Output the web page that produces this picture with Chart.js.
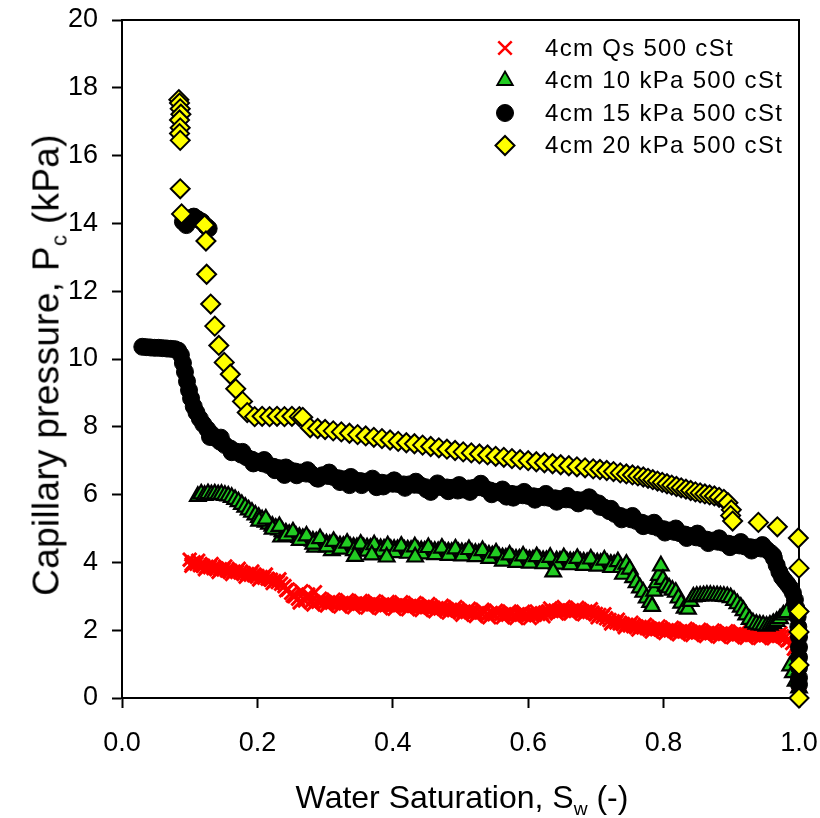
<!DOCTYPE html>
<html>
<head>
<meta charset="utf-8">
<script src="https://cdn.jsdelivr.net/npm/chart.js@4.4.1/dist/chart.umd.min.js"></script>
<style>
  html, body { margin: 0; padding: 0; background: #fff; }
  #wrap { position: relative; width: 820px; height: 818px; overflow: hidden; }
  #c { position: absolute; left: 0; top: 0; }
  .axt { position: absolute; white-space: nowrap; font-family: "Liberation Sans", Arial, sans-serif; color: #000; line-height: 1; }
  .axt sub { font-size: 0.6em; vertical-align: -0.35em; line-height: 0; }
  #ytitle { left: 46px; top: 365px; transform: translate(-50%, -50%) rotate(-90deg); font-size: 37px; letter-spacing: 0.3px; }
  #xtitle { left: 462px; top: 797px; transform: translate(-50%, -50%); font-size: 32px; }
</style>
</head>
<body>
<div id="wrap">
  <canvas id="c" width="820" height="818"></canvas>
  <div class="axt" id="ytitle">Capillary pressure, P<sub>c</sub> (kPa)</div>
  <div class="axt" id="xtitle">Water Saturation, S<sub>w</sub> (-)</div>
</div>
<script>
// ---- series labels ----
const seriesLabels = ['4cm Qs 500 cSt', '4cm 10 kPa 500 cSt', '4cm 15 kPa 500 cSt', '4cm 20 kPa 500 cSt'];

// ---- axis ticks ----
const xTicks = [0.0, 0.2, 0.4, 0.6, 0.8, 1.0];
const yTicks = [0, 2, 4, 6, 8, 10, 12, 14, 16, 18, 20];

// ---- data: [water saturation, capillary pressure kPa] ----
const qsData = [[0.100,4.08],[0.103,3.95],[0.106,4.00],[0.110,3.96],[0.115,3.92],[0.120,3.90],[0.125,3.87],[0.130,3.86],[0.135,3.83],[0.140,3.82],[0.145,3.80],[0.150,3.79],[0.155,3.76],[0.160,3.75],[0.165,3.73],[0.170,3.72],[0.175,3.70],[0.180,3.68],[0.185,3.66],[0.190,3.64],[0.195,3.62],[0.200,3.60],[0.205,3.57],[0.210,3.55],[0.215,3.52],[0.220,3.49],[0.225,3.45],[0.230,3.42],[0.235,3.37],[0.240,3.30],[0.245,3.20],[0.250,3.10],[0.255,3.00],[0.260,2.93],[0.265,3.15],[0.270,2.88],[0.275,3.05],[0.280,2.86],[0.285,3.12],[0.290,2.84],[0.295,2.85],[0.300,2.83],[0.305,2.82],[0.310,2.81],[0.315,2.82],[0.320,2.80],[0.325,2.80],[0.330,2.79],[0.335,2.80],[0.340,2.78],[0.345,2.79],[0.350,2.78],[0.355,2.77],[0.360,2.78],[0.365,2.76],[0.370,2.77],[0.375,2.76],[0.380,2.75],[0.385,2.76],[0.390,2.74],[0.395,2.75],[0.400,2.74],[0.405,2.73],[0.410,2.74],[0.415,2.72],[0.420,2.73],[0.425,2.71],[0.430,2.72],[0.435,2.70],[0.440,2.70],[0.445,2.69],[0.450,2.68],[0.455,2.67],[0.460,2.66],[0.465,2.65],[0.470,2.64],[0.475,2.63],[0.480,2.62],[0.485,2.60],[0.490,2.59],[0.495,2.58],[0.500,2.56],[0.505,2.55],[0.510,2.54],[0.515,2.53],[0.520,2.52],[0.525,2.50],[0.530,2.52],[0.535,2.55],[0.540,2.48],[0.545,2.51],[0.550,2.47],[0.555,2.50],[0.560,2.48],[0.565,2.47],[0.570,2.46],[0.575,2.48],[0.580,2.45],[0.585,2.47],[0.590,2.46],[0.595,2.44],[0.600,2.45],[0.605,2.47],[0.610,2.46],[0.615,2.48],[0.620,2.50],[0.625,2.52],[0.630,2.55],[0.635,2.57],[0.640,2.58],[0.645,2.58],[0.650,2.59],[0.655,2.60],[0.660,2.58],[0.665,2.59],[0.670,2.57],[0.675,2.58],[0.680,2.56],[0.685,2.55],[0.690,2.54],[0.695,2.52],[0.700,2.48],[0.705,2.45],[0.710,2.40],[0.715,2.35],[0.720,2.30],[0.725,2.26],[0.730,2.23],[0.735,2.20],[0.740,2.18],[0.745,2.16],[0.750,2.14],[0.755,2.12],[0.760,2.11],[0.765,2.09],[0.770,2.08],[0.775,2.06],[0.780,2.05],[0.785,2.04],[0.790,2.03],[0.795,2.02],[0.800,2.01],[0.805,2.00],[0.810,1.99],[0.815,1.98],[0.820,1.97],[0.825,1.97],[0.830,1.96],[0.835,1.95],[0.840,1.95],[0.845,1.94],[0.850,1.93],[0.855,1.93],[0.860,1.92],[0.865,1.92],[0.870,1.91],[0.875,1.91],[0.880,1.90],[0.885,1.90],[0.890,1.89],[0.895,1.89],[0.900,1.88],[0.905,1.88],[0.910,1.88],[0.915,1.87],[0.920,1.87],[0.925,1.87],[0.930,1.86],[0.935,1.86],[0.940,1.86],[0.945,1.85],[0.950,1.85],[0.955,1.85],[0.960,1.84],[0.965,1.84],[0.970,1.83],[0.975,1.82],[0.980,1.80],[0.985,1.72],[0.990,1.62],[0.995,1.52],[0.997,1.25],[0.998,0.95],[0.999,0.65],[1.000,0.35],[1.000,0.10],
  [0.1025,3.90],[0.1125,4.05],[0.1225,3.80],[0.1325,3.95],[0.1425,3.72],[0.1525,3.88],[0.1625,3.66],[0.1725,3.81],[0.1825,3.58],[0.1925,3.73],[0.2025,3.50],[0.2125,3.64],[0.2225,3.39],[0.2325,3.50],[0.2425,3.18],[0.2525,3.02],[0.2625,2.82],[0.2725,2.96],[0.2825,2.76],[0.2925,2.93],[0.3025,2.73],[0.3125,2.90],[0.3225,2.70],[0.3325,2.88],[0.3425,2.68],[0.3525,2.86],[0.3625,2.67],[0.3725,2.85],[0.3825,2.65],[0.3925,2.83],[0.4025,2.63],[0.4125,2.82],[0.4225,2.62],[0.4325,2.80],[0.4425,2.60],[0.4525,2.77],[0.4625,2.56],[0.4725,2.72],[0.4825,2.52],[0.4925,2.68],[0.5025,2.46],[0.5125,2.63],[0.5225,2.42],[0.5325,2.60],[0.5425,2.38],[0.5525,2.57],[0.5625,2.38],[0.5725,2.55],[0.5825,2.36],[0.5925,2.54],[0.6025,2.36],[0.6125,2.55],[0.6225,2.41],[0.6325,2.64],[0.6425,2.49],[0.6525,2.68],[0.6625,2.49],[0.6725,2.66],[0.6825,2.47],[0.6925,2.62],[0.7025,2.38],[0.7125,2.47],[0.7225,2.20],[0.7325,2.31],[0.7425,2.09],[0.7525,2.22],[0.7625,2.02],[0.7725,2.16],[0.7825,1.96],[0.7925,2.11],[0.8025,1.92],[0.8125,2.07],[0.8225,1.88],[0.8325,2.04],[0.8425,1.86],[0.8525,2.01],[0.8625,1.83],[0.8725,1.99],[0.8825,1.81],[0.8925,1.97],[0.9025,1.79],[0.9125,1.96],[0.9225,1.78],[0.9325,1.94],[0.9425,1.77],[0.9525,1.93],[0.9625,1.76],[0.9725,1.91],[0.9825,1.70],[0.9925,1.45]];

const kpa10Data = [[0.112,5.95],[0.117,6.02],[0.122,5.98],[0.127,6.03],[0.132,6.00],[0.137,6.02],[0.142,6.00],[0.147,6.01],[0.152,5.98],[0.157,5.96],[0.162,5.92],[0.167,5.86],[0.172,5.79],[0.177,5.71],[0.182,5.63],[0.187,5.55],[0.192,5.48],[0.197,5.40],[0.202,5.33],[0.207,5.26],[0.212,5.19],[0.217,5.13],[0.222,5.07],[0.227,5.01],[0.232,4.96],[0.235,4.75],[0.237,4.91],[0.242,4.87],[0.247,4.83],[0.252,4.80],[0.257,4.77],[0.262,4.74],[0.267,4.71],[0.272,4.68],[0.277,4.65],[0.282,4.63],[0.285,4.45],[0.287,4.61],[0.292,4.59],[0.297,4.57],[0.302,4.55],[0.307,4.53],[0.310,4.35],[0.312,4.52],[0.317,4.50],[0.322,4.49],[0.327,4.48],[0.332,4.47],[0.337,4.46],[0.342,4.45],[0.347,4.44],[0.352,4.44],[0.357,4.43],[0.362,4.43],[0.367,4.42],[0.372,4.42],[0.377,4.41],[0.382,4.41],[0.387,4.40],[0.392,4.40],[0.397,4.39],[0.402,4.39],[0.407,4.38],[0.412,4.38],[0.417,4.37],[0.422,4.37],[0.427,4.36],[0.432,4.36],[0.437,4.35],[0.442,4.35],[0.447,4.34],[0.452,4.34],[0.457,4.33],[0.462,4.33],[0.467,4.32],[0.472,4.32],[0.477,4.31],[0.482,4.31],[0.487,4.30],[0.492,4.30],[0.497,4.29],[0.502,4.29],[0.507,4.28],[0.512,4.28],[0.517,4.27],[0.522,4.27],[0.527,4.26],[0.532,4.25],[0.537,4.24],[0.542,4.22],[0.547,4.20],[0.552,4.18],[0.557,4.16],[0.562,4.14],[0.567,4.13],[0.572,4.12],[0.577,4.11],[0.582,4.10],[0.587,4.10],[0.592,4.09],[0.597,4.09],[0.602,4.08],[0.607,4.08],[0.612,4.07],[0.617,4.07],[0.622,4.06],[0.627,4.06],[0.632,4.05],[0.642,4.05],[0.647,4.04],[0.652,4.04],[0.657,4.03],[0.662,4.03],[0.667,4.02],[0.672,4.02],[0.677,4.01],[0.682,4.01],[0.687,4.00],[0.692,4.00],[0.697,3.99],[0.702,3.99],[0.707,3.98],[0.712,3.97],[0.717,3.96],[0.722,3.95],[0.727,3.94],[0.732,3.92],
  [0.2025,5.22],[0.2125,5.28],[0.2225,4.98],[0.2325,5.06],[0.2425,4.78],[0.2525,4.90],[0.2625,4.65],[0.2725,4.78],[0.2825,4.54],[0.2925,4.70],[0.3025,4.46],[0.3125,4.62],[0.3225,4.39],[0.3325,4.57],[0.3425,4.35],[0.3525,4.54],[0.3625,4.33],[0.3725,4.52],[0.3825,4.31],[0.3925,4.49],[0.4025,4.29],[0.4125,4.48],[0.4225,4.27],[0.4325,4.46],[0.4425,4.25],[0.4525,4.44],[0.4625,4.23],[0.4725,4.42],[0.4825,4.21],[0.4925,4.40],[0.5025,4.19],[0.5125,4.38],[0.5225,4.17],[0.5325,4.35],[0.5425,4.12],[0.5525,4.28],[0.5625,4.04],[0.5725,4.22],[0.5825,4.00],[0.5925,4.19],[0.6025,3.98],[0.6125,4.17],[0.6225,3.96],[0.6325,4.15],[0.6425,3.95],[0.6525,4.14],[0.6625,3.93],[0.6725,4.12],[0.6825,3.91],[0.6925,4.10],[0.7025,3.89],[0.7125,4.07],[0.7225,3.85],[0.7325,4.02],
  [0.344,4.18],[0.369,4.22],[0.391,4.16],[0.433,4.16],[0.637,3.72],
  [0.737,3.85],[0.740,3.65],[0.745,3.95],[0.750,3.80],[0.755,3.55],[0.760,3.40],[0.765,3.25],[0.770,3.12],[0.775,2.95],[0.780,2.82],[0.783,2.70],[0.786,3.15],[0.790,3.40],[0.793,3.62],[0.796,3.90],[0.799,3.50],[0.803,3.30],[0.808,3.25],[0.813,3.18],[0.818,3.12],[0.822,2.95],[0.826,2.80],[0.831,2.65],[0.836,2.62],[0.840,2.85],[0.844,2.98],[0.849,3.00],[0.854,3.01],[0.859,3.02],[0.864,3.03],[0.869,3.03],[0.874,3.02],[0.879,3.02],[0.884,3.01],[0.889,3.00],[0.894,2.99],[0.899,2.96],[0.904,2.88],[0.909,2.78],[0.914,2.68],[0.918,2.58],[0.922,2.45],[0.927,2.32],[0.932,2.22],[0.937,2.18],[0.942,2.16],[0.947,2.15],[0.952,2.12],[0.957,2.15],[0.962,2.20],[0.967,2.26],[0.972,2.34],[0.977,2.45],[0.982,2.52],[0.987,0.95],[0.991,0.75],[0.995,0.50],[1.000,0.30]];

const kpa15Data = [[0.090,14.05],[0.095,13.95],[0.100,14.15],[0.106,14.20],[0.112,14.12],[0.118,14.05],[0.124,13.92],[0.128,13.85],[0.030,10.36],[0.036,10.35],[0.042,10.34],[0.048,10.33],[0.054,10.33],[0.060,10.32],[0.066,10.31],[0.072,10.30],[0.078,10.29],[0.083,10.25],[0.087,10.12],[0.090,9.88],[0.093,9.62],[0.096,9.34],[0.099,9.08],[0.102,8.84],[0.106,8.60],[0.110,8.42],[0.115,8.24],[0.120,8.08],[0.126,7.93],[0.132,7.79],[0.138,7.67],[0.145,7.56],[0.152,7.46],[0.160,7.36],[0.168,7.27],[0.176,7.18],[0.184,7.10],[0.192,7.03],[0.200,6.97],[0.208,6.92],[0.216,6.87],[0.224,6.82],[0.232,6.78],[0.240,6.58],[0.248,6.72],[0.256,6.68],[0.264,6.65],[0.272,6.62],[0.280,6.60],[0.288,6.48],[0.296,6.57],[0.304,6.55],[0.312,6.52],[0.320,6.48],[0.328,6.45],[0.336,6.28],[0.344,6.42],[0.352,6.40],[0.360,6.38],[0.368,6.37],[0.376,6.22],[0.384,6.35],[0.392,6.33],[0.400,6.32],[0.408,6.31],[0.416,6.30],[0.424,6.30],[0.432,6.29],[0.440,6.28],[0.448,6.22],[0.456,6.08],[0.464,6.24],[0.472,6.22],[0.480,6.21],[0.488,6.20],[0.496,6.12],[0.504,6.15],[0.512,6.18],[0.520,6.20],[0.528,6.22],[0.536,6.18],[0.544,6.12],[0.552,6.08],[0.560,6.05],[0.568,5.94],[0.576,6.02],[0.584,6.00],[0.592,5.98],[0.600,5.96],[0.608,5.95],[0.616,5.93],[0.624,5.92],[0.632,5.90],[0.640,5.89],[0.648,5.87],[0.656,5.86],[0.664,5.85],[0.672,5.84],[0.680,5.83],[0.688,5.82],[0.696,5.80],[0.704,5.74],[0.712,5.62],[0.720,5.51],[0.728,5.43],[0.736,5.37],[0.744,5.32],[0.752,5.27],[0.760,5.22],[0.768,5.17],[0.776,5.12],[0.784,5.07],[0.792,5.02],[0.800,4.98],[0.808,4.94],[0.816,4.90],[0.824,4.86],[0.832,4.82],[0.840,4.78],[0.848,4.74],[0.856,4.71],[0.864,4.67],[0.872,4.64],[0.880,4.61],[0.888,4.58],[0.896,4.55],[0.904,4.52],[0.912,4.50],[0.920,4.47],[0.928,4.45],[0.936,4.43],[0.944,4.41],[0.952,4.38],[0.958,4.28],[0.963,4.12],[0.967,3.92],[0.971,3.72],[0.975,3.56],[0.979,3.46],[0.983,3.36],[0.987,3.25],[0.991,3.10],[0.994,2.90],[0.996,2.65],[0.998,2.40],[0.999,2.10],[1.000,1.80],[1.000,1.50],[1.000,1.20],[1.000,0.90],[1.000,0.60],[1.000,0.40],
  [0.130,7.70],[0.146,7.68],[0.162,7.25],[0.178,7.26],[0.194,6.92],[0.210,7.02],[0.226,6.72],[0.242,6.80],[0.258,6.57],[0.274,6.72],[0.290,6.47],[0.306,6.65],[0.322,6.37],[0.338,6.52],[0.354,6.28],[0.370,6.47],[0.386,6.24],[0.402,6.42],[0.418,6.20],[0.434,6.38],[0.450,6.15],[0.466,6.33],[0.482,6.10],[0.498,6.28],[0.514,6.08],[0.530,6.32],[0.546,6.01],[0.562,6.15],[0.578,5.91],[0.594,6.08],[0.610,5.85],[0.626,6.02],[0.642,5.79],[0.658,5.96],[0.674,5.74],[0.690,5.92],[0.706,5.64],[0.722,5.58],[0.738,5.27],[0.754,5.37],[0.770,5.07],[0.786,5.17],[0.802,4.88],[0.818,5.00],[0.834,4.72],[0.850,4.85],[0.866,4.57],[0.882,4.71],[0.898,4.45],[0.914,4.60],[0.930,4.35],[0.946,4.51],[0.962,4.20]];

const kpa20Data = [[0.084,17.65],[0.085,17.55],[0.086,17.38],[0.087,17.22],[0.085,17.05],[0.086,16.82],[0.085,16.65],[0.086,16.45],[0.086,15.02],[0.088,14.28],[0.122,13.95],[0.124,13.48],[0.125,12.50],[0.131,11.62],[0.137,10.97],[0.143,10.40],[0.151,9.90],[0.160,9.55],[0.168,9.12],[0.178,8.75],[0.185,8.42],[0.196,8.30],[0.207,8.31],[0.218,8.30],[0.229,8.31],[0.240,8.30],[0.251,8.31],[0.262,8.30],[0.267,8.28],[0.278,7.97],[0.289,7.95],[0.300,7.92],[0.312,7.88],[0.324,7.85],[0.336,7.81],[0.348,7.77],[0.360,7.73],[0.372,7.69],[0.384,7.65],[0.396,7.61],[0.408,7.57],[0.420,7.53],[0.432,7.50],[0.444,7.46],[0.456,7.42],[0.468,7.38],[0.480,7.34],[0.492,7.30],[0.504,7.26],[0.516,7.23],[0.528,7.20],[0.540,7.17],[0.552,7.13],[0.564,7.10],[0.576,7.06],[0.588,7.03],[0.600,7.00],[0.612,6.97],[0.624,6.94],[0.636,6.91],[0.648,6.88],[0.660,6.85],[0.672,6.82],[0.684,6.79],[0.696,6.76],[0.706,6.74],[0.716,6.71],[0.726,6.68],[0.736,6.64],[0.745,6.61],[0.754,6.58],[0.762,6.55],[0.770,6.52],[0.777,6.48],[0.784,6.44],[0.791,6.40],[0.798,6.36],[0.805,6.32],[0.812,6.28],[0.819,6.24],[0.826,6.20],[0.833,6.16],[0.840,6.12],[0.847,6.08],[0.854,6.05],[0.861,6.02],[0.868,5.99],[0.875,5.96],[0.882,5.92],[0.889,5.86],[0.895,5.76],[0.900,5.55],[0.899,5.38],[0.902,5.22],[0.940,5.18],[0.968,5.05],[0.999,4.72],[1.000,3.83],[1.000,2.55],[1.000,1.95],[1.000,0.97],[1.000,0.00]];

const FONT = '"Liberation Sans", Arial, Helvetica, sans-serif';
Chart.defaults.font.family = FONT;
Chart.defaults.color = '#000';

const toPts = arr => arr.map(p => ({ x: p[0], y: p[1] }));

const frame = {
  id: 'frame',
  beforeDatasetsDraw(chart) {
    const a = chart.chartArea, ctx = chart.ctx;
    ctx.save();
    ctx.strokeStyle = '#000';
    ctx.lineWidth = 2;
    ctx.strokeRect(a.left, a.top, a.right - a.left, a.bottom - a.top);
    ctx.restore();
  }
};

const insideLegend = {
  id: 'insideLegend',
  afterDatasetsDraw(chart) {
    const ctx = chart.ctx;
    ctx.save();
    chart.data.datasets.forEach((ds, i) => {
      const y = 48 + i * 32.5;
      const x = 505;
      ctx.fillStyle = ds.pointBackgroundColor;
      ctx.strokeStyle = ds.pointBorderColor;
      ctx.lineWidth = ds.legendBorderWidth;
      Chart.helpers.drawPoint(ctx, { pointStyle: ds.pointStyle, radius: ds.pointRadius, borderWidth: ds.legendBorderWidth, rotation: 0 }, x, y);
      ctx.fillStyle = '#000';
      ctx.font = '24px ' + FONT;
      if ('letterSpacing' in ctx) ctx.letterSpacing = '1.3px';
      ctx.textBaseline = 'middle';
      ctx.textAlign = 'left';
      ctx.fillText(ds.label, 545, y + 1);
      if ('letterSpacing' in ctx) ctx.letterSpacing = '0px';
    });
    ctx.restore();
  }
};

new Chart(document.getElementById('c'), {
  type: 'scatter',
  data: {
    datasets: [
      { label: seriesLabels[0], data: toPts(qsData), order: 4, pointStyle: 'crossRot', pointRadius: 9.5, legendBorderWidth: 2.5,
        pointBackgroundColor: '#ff0000', pointBorderColor: '#ff0000', pointBorderWidth: 3, clip: false },
      { label: seriesLabels[1], data: toPts(kpa10Data), order: 3, pointStyle: 'triangle', pointRadius: 9, legendBorderWidth: 1.8,
        pointBackgroundColor: '#22cc22', pointBorderColor: '#000000', pointBorderWidth: 2.2, clip: false },
      { label: seriesLabels[2], data: toPts(kpa15Data), order: 2, pointStyle: 'circle', pointRadius: 8.5, legendBorderWidth: 1,
        pointBackgroundColor: '#000000', pointBorderColor: '#000000', pointBorderWidth: 1, clip: false },
      { label: seriesLabels[3], data: toPts(kpa20Data), order: 1, pointStyle: 'rectRot', pointRadius: 9.5, legendBorderWidth: 2,
        pointBackgroundColor: '#ffff00', pointBorderColor: '#000000', pointBorderWidth: 2, clip: false }
    ]
  },
  options: {
    responsive: false,
    devicePixelRatio: 1,
    animation: false,
    events: [],
    layout: { padding: { top: 20, right: 21, left: 0, bottom: 0 } },
    plugins: { legend: { display: false }, tooltip: { enabled: false } },
    scales: {
      x: {
        type: 'linear', min: 0, max: 1,
        afterFit: s => { s.height = 120; s.paddingLeft = 0; s.paddingRight = 0; },
        afterBuildTicks: s => { s.ticks = xTicks.map(v => ({ value: v })); },
        ticks: { font: { size: 27 }, color: '#000', padding: 19, maxRotation: 0, autoSkip: false,
                 callback: v => Number(v).toFixed(1) },
        grid: { display: true, drawOnChartArea: false, drawTicks: true, tickLength: 10, tickWidth: 2, tickColor: '#000' },
        border: { display: true, color: '#000', width: 2 },
        title: { display: false }
      },
      y: {
        type: 'linear', min: 0, max: 20,
        afterFit: s => { s.width = 122; s.paddingTop = 0; s.paddingBottom = 0; },
        afterBuildTicks: s => { s.ticks = yTicks.map(v => ({ value: v })); },
        ticks: { font: { size: 27 }, color: '#000', padding: 14, autoSkip: false,
                 callback: v => String(v) },
        grid: { display: true, drawOnChartArea: false, drawTicks: true, tickLength: 10, tickWidth: 2, tickColor: '#000' },
        border: { display: true, color: '#000', width: 2 },
        title: { display: false }
      }
    }
  },
  plugins: [frame, insideLegend]
});
</script>
</body>
</html>
